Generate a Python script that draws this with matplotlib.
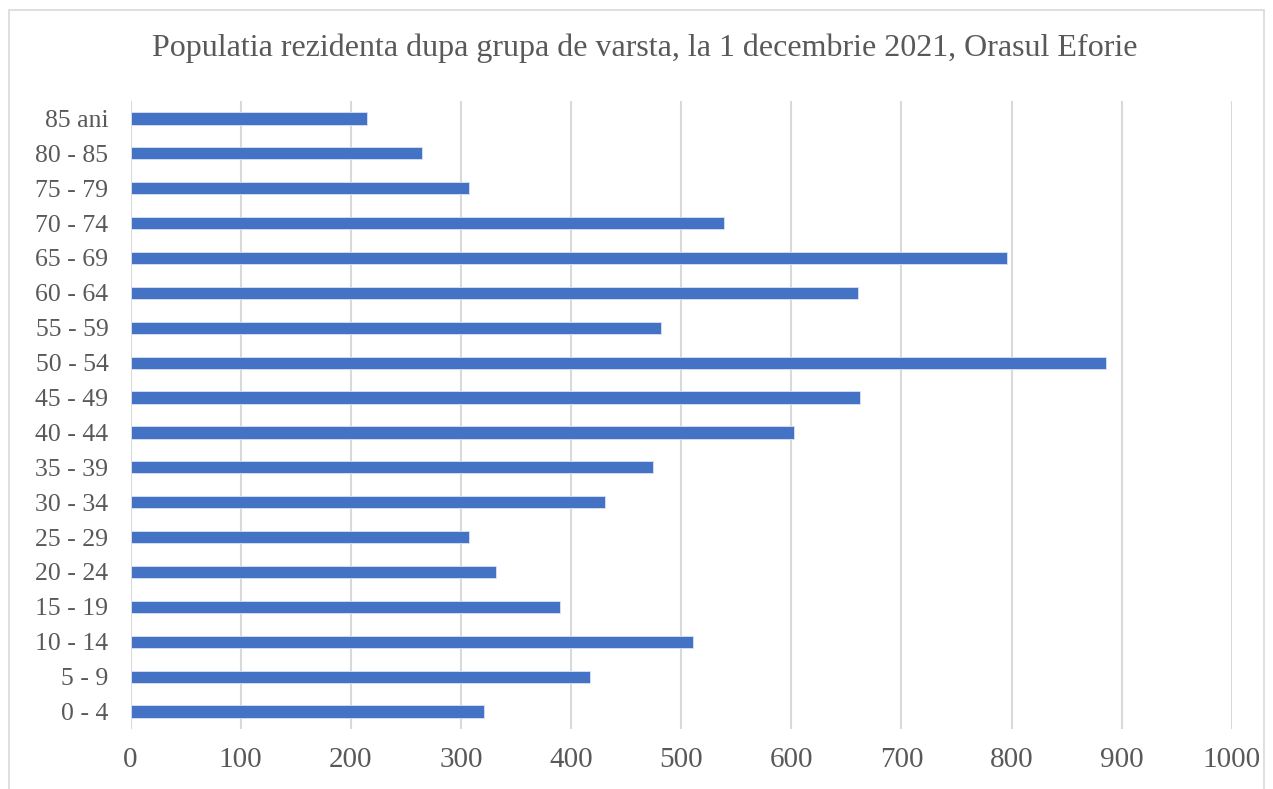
import matplotlib
matplotlib.use("Agg")
import matplotlib.pyplot as plt
from matplotlib.patches import Rectangle

# age groups, bottom to top as drawn
groups = ["0 - 4", "5 - 9", "10 - 14", "15 - 19", "20 - 24", "25 - 29",
          "30 - 34", "35 - 39", "40 - 44", "45 - 49", "50 - 54", "55 - 59",
          "60 - 64", "65 - 69", "70 - 74", "75 - 79", "80 - 85", "85 ani"]
population = [321, 417, 511, 390, 332, 307,
              431, 474, 602, 662, 886, 482,
              661, 796, 539, 307, 265, 215]
xticks = [0, 100, 200, 300, 400, 500, 600, 700, 800, 900, 1000]

W, H = 1273, 789
fig = plt.figure(figsize=(W / 100, H / 100), dpi=100)
plt.rcParams["font.family"] = ["Liberation Serif", "DejaVu Serif"]

# light chart-area border (bottom edge runs off the picture)
fig.patches.append(Rectangle((9 / W, -0.05), (1264 - 9) / W, 1.05 - 10 / H,
                             transform=fig.transFigure, fill=False,
                             edgecolor="#d9d9d9", lw=1.2))

ax = fig.add_axes([130.6 / W, 1 - 729 / H, (1231.8 - 130.6) / W, (729 - 101) / H])
ax.barh(range(len(groups)), population, height=0.35, color="#4472C4",
        edgecolor="#dbe3f3", linewidth=0.6, zorder=3)

ax.set_xlim(0, 1000)
ax.set_ylim(-0.5, len(groups) - 0.5)
ax.set_xticks(xticks)
ax.set_yticks(range(len(groups)))
ax.set_yticklabels(groups)
ax.xaxis.grid(True, color="#d9d9d9", lw=1.5, zorder=0)
ax.set_axisbelow(True)
for s in ax.spines.values():
    s.set_visible(False)
ax.tick_params(axis="both", length=0, colors="#595959")
ax.tick_params(axis="x", labelsize=21, pad=13)
ax.tick_params(axis="y", labelsize=18.5, pad=16)

fig.text(645 / W, 1 - 48 / H,
         "Populatia rezidenta dupa grupa de varsta, la 1 decembrie 2021, Orasul Eforie",
         ha="center", va="center", fontsize=23, color="#595959")

fig.savefig("out.png", dpi=100)
